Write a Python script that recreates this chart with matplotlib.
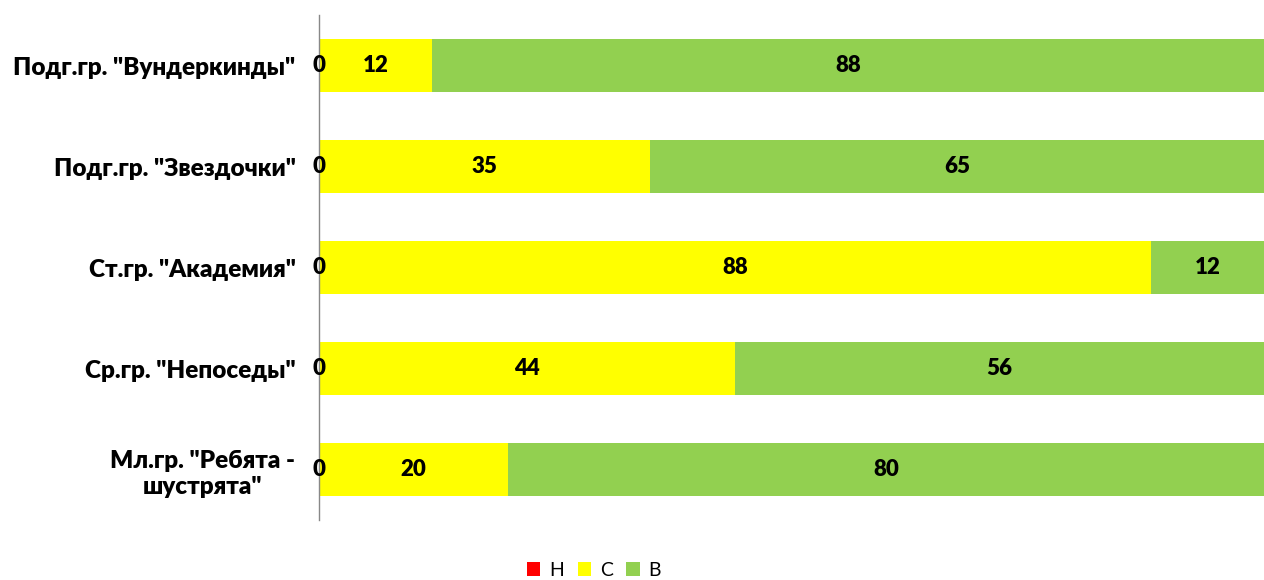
import matplotlib
matplotlib.use("Agg")
import matplotlib.pyplot as plt
import numpy as np

categories = ['Подг.гр. "Вундеркинды"', 'Подг.гр. "Звездочки"', 'Ст.гр. "Академия"',
              'Ср.гр. "Непоседы"', 'Мл.гр. "Ребята -\nшустрята"']
series_names = ["Н", "С", "В"]
n_vals = [0, 0, 0, 0, 0]
c_vals = [12, 35, 88, 44, 20]
v_vals = [88, 65, 12, 56, 80]
colors = ["#FF0000", "#FFFF00", "#92D050"]

plt.rcParams["font.family"] = ["Lato", "DejaVu Sans"]

fig = plt.figure(figsize=(12.64, 5.8), dpi=100)
ax = fig.add_axes([0.2524, 0.1034, 0.7476, 0.8706])

y = np.arange(len(categories))[::-1]
h = 0.52
left = np.zeros(len(categories))
for name, vals, col in zip(series_names, [n_vals, c_vals, v_vals], colors):
    vals = np.array(vals, dtype=float)
    ax.barh(y, vals, h, left=left, color=col, label=name)
    for yi, l, v in zip(y, left, vals):
        ax.text(l + v / 2, yi, f"{int(v)}", ha="center", va="center",
                fontsize=16, fontweight="heavy", color="black")
    left += vals

ax.set_xlim(0, 100)
ax.set_ylim(-0.5, len(categories) - 0.5)
ax.set_yticks(y)
ax.set_yticklabels(categories, fontsize=17.5, fontweight="heavy", linespacing=1.25)
ax.tick_params(axis="y", length=0, pad=17)
ax.set_xticks([])
for s in ["top", "right", "bottom"]:
    ax.spines[s].set_visible(False)
ax.spines["left"].set_color("#888888")
ax.spines["left"].set_linewidth(1.0)
for t in ax.get_yticklabels():
    t.set_multialignment("center")

ax.legend(loc="center", bbox_to_anchor=(594 / 1264, 10 / 580), bbox_transform=fig.transFigure,
          ncol=3, frameon=False, fontsize=14, handlelength=0.7, handleheight=0.7,
          handletextpad=0.45, columnspacing=0.7)

fig.savefig("out.png", dpi=100)
